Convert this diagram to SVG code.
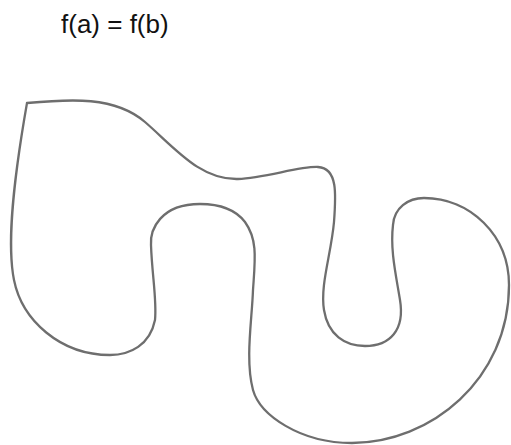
<svg xmlns="http://www.w3.org/2000/svg" width="511" height="445" viewBox="0 0 511 445">
<style>
.lbl{font-family:"Liberation Sans",Arial,sans-serif;font-size:26px;fill:#111}
.curve{fill:none;stroke:#6e6e6e;stroke-width:2.3}
</style>
<rect width="511" height="445" fill="#fff"/>
<g id="label"><text class="lbl" x="61" y="33">f(a) = f(b)</text></g>
<g id="shape">
<path class="curve" d="M 27,103 C 70,99 115,96 145,122 C 175,148 200,180 238,179 C 265,178 300,166 318,167 C 338,168 336,195 334,222 C 331,255 320,285 324,310 C 328,335 345,346 365,346 C 390,346 405,330 400,300 C 396,275 390,250 393,225 C 394,208 408,198 424,198 C 470,198 509,235 509,285 C 509,380 430,443 352,443 C 300,443 260,415 253,390 C 245,360 252,320 253,290 C 255,260 258,240 245,222 C 232,205 210,204 200,204 C 160,204 150,230 151,245 C 152,275 157,300 155,320 C 150,345 130,355 110,355 C 60,355 22,320 14,280 C 8,250 10,200 27,103 Z"/>
</g>
</svg>
